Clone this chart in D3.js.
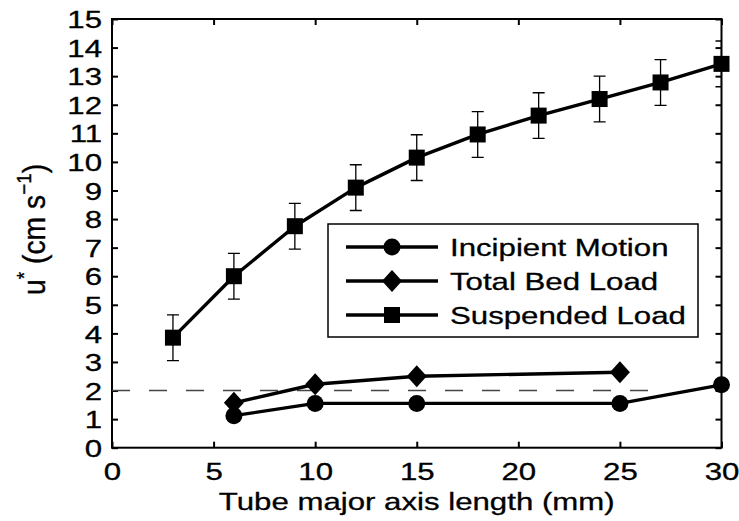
<!DOCTYPE html>
<html>
<head>
<meta charset="utf-8">
<title>u* vs tube major axis length</title>
<script src="https://cdn.jsdelivr.net/npm/d3@7/dist/d3.min.js" charset="utf-8"></script>
<style type="text/css">
	body { margin: 0; background: #fff; }
	text { font-family: "Liberation Sans", Arial, Helvetica, sans-serif; fill: #000; stroke: #000; stroke-width: 0.3px; }
	.series { fill: none; stroke: #000; stroke-width: 3.4px; stroke-linejoin: round; }
	.err { stroke: #000; stroke-width: 1.3px; fill: none; }
	.axis path, .axis line { stroke: #000; stroke-width: 2px; }
</style>
</head>
<body>
<script type="text/javascript">

var width = 739,
    height = 521;

// data
var xTicks = [0, 5, 10, 15, 20, 25, 30];
var yTicks = d3.range(0, 16);

var imX = [6, 10, 15, 25, 30];
var imY = [1.12, 1.55, 1.55, 1.55, 2.2];

var tbX = [6, 10, 15, 25];
var tbY = [1.57, 2.22, 2.5, 2.64];

var slX = [3, 6, 9, 12, 15, 18, 21, 24, 27, 30];
var slY = [3.85, 6.0, 7.75, 9.1, 10.15, 10.96, 11.62, 12.2, 12.78, 13.43];
var slErr = [0.8, 0.8, 0.8, 0.8, 0.8, 0.8, 0.8, 0.8, 0.8, 0.8];

var threshY = 2;
var threshX = [0, 27];

var legendLabels = ["Incipient Motion", "Total Bed Load", "Suspended Load"];
var legendShapes = ["circle", "diamond", "square"];

var xTitle = "Tube major axis length (mm)";

var SX = 1.3; // the original figure is stretched horizontally

var margin = {left: 112, right: 17.5, top: 19, bottom: 73.3};
var pw = width - margin.left - margin.right,
    ph = height - margin.top - margin.bottom;

var x = d3.scaleLinear().domain([0, 30]).range([0, pw]);
var y = d3.scaleLinear().domain([0, 15]).range([ph, 0]);

var svg = d3.select("body").append("svg").attr("width", width).attr("height", height);
svg.append("defs").append("clipPath").attr("id", "clip")
  .append("rect").attr("width", pw).attr("height", ph);

var g = svg.append("g").attr("transform", "translate(" + margin.left + "," + margin.top + ")");

// box
g.append("rect").attr("width", pw).attr("height", ph)
  .attr("fill", "none").attr("stroke", "#000").attr("stroke-width", 2);

function stretchText(sel, anchor) {
  sel.selectAll("text").each(function() {
    var t = d3.select(this);
    var tx = +t.attr("x") || 0, ty = +t.attr("y") || 0;
    t.attr("x", tx / SX).attr("y", ty)
     .attr("transform", "scale(" + SX + ",1)")
     .style("font-size", "24px").style("font-family", null)
     .attr("text-anchor", anchor);
  });
}

var gx = g.append("g").attr("class", "axis").attr("transform", "translate(0," + ph + ")")
  .call(d3.axisBottom(x).tickValues(xTicks).tickSizeInner(-6).tickSizeOuter(0).tickPadding(15));
gx.select(".domain").remove();
stretchText(gx, "middle");
gx.selectAll("text").attr("dy", "0.71em").attr("fill", "#000");

var gxt = g.append("g").attr("class", "axis")
  .call(d3.axisTop(x).tickValues(xTicks).tickSizeInner(-6).tickSizeOuter(0).tickFormat(""));
gxt.select(".domain").remove();

var gy = g.append("g").attr("class", "axis")
  .call(d3.axisLeft(y).tickValues(yTicks).tickSizeInner(-6).tickSizeOuter(0).tickPadding(10));
gy.select(".domain").remove();
stretchText(gy, "end");
gy.selectAll("text").attr("dy", "0.36em").attr("fill", "#000");

var gyr = g.append("g").attr("class", "axis").attr("transform", "translate(" + pw + ",0)")
  .call(d3.axisRight(y).tickValues(yTicks).tickSizeInner(-6).tickSizeOuter(0).tickFormat(""));
gyr.select(".domain").remove();

// dashed threshold
g.append("line")
  .attr("x1", x(threshX[0])).attr("x2", x(threshX[1]))
  .attr("y1", y(threshY)).attr("y2", y(threshY))
  .attr("stroke", "#444").attr("stroke-width", 1.6).attr("stroke-dasharray", "18,19");

var line = d3.line().x(function(d) { return x(d[0]); }).y(function(d) { return y(d[1]); });

function markers(sel, shape) {
  if (shape === "circle") {
    sel.append("circle").attr("r", 8.5).attr("fill", "#000");
  } else if (shape === "diamond") {
    sel.append("path").attr("d", "M0,-11L10,0L0,11L-10,0Z").attr("fill", "#000");
  } else {
    sel.append("rect").attr("x", -8).attr("y", -8).attr("width", 16).attr("height", 16).attr("fill", "#000");
  }
}

function drawSeries(xs, ys, shape) {
  var pts = xs.map(function(v, i) { return [v, ys[i]]; });
  g.append("path").datum(pts).attr("class", "series").attr("d", line);
  var m = g.selectAll(null).data(pts).enter().append("g")
    .attr("transform", function(d) { return "translate(" + x(d[0]) + "," + y(d[1]) + ")"; });
  markers(m, shape);
}

// error bars on suspended load
var eb = g.append("g").attr("clip-path", "url(#clip)");
var errData = slX.map(function(v, i) { return [v, slY[i], slErr[i]]; });
var ebs = eb.selectAll(null).data(errData).enter().append("g").attr("class", "err");
ebs.append("line")
  .attr("x1", function(d) { return x(d[0]); }).attr("x2", function(d) { return x(d[0]); })
  .attr("y1", function(d) { return y(d[1] - d[2]); }).attr("y2", function(d) { return y(d[1] + d[2]); });
[-1, 1].forEach(function(s) {
  ebs.append("line")
    .attr("x1", function(d) { return x(d[0]) - 6; }).attr("x2", function(d) { return x(d[0]) + 6; })
    .attr("y1", function(d) { return y(d[1] + s * d[2]); }).attr("y2", function(d) { return y(d[1] + s * d[2]); });
});

drawSeries(imX, imY, "circle");
drawSeries(tbX, tbY, "diamond");
drawSeries(slX, slY, "square");

// x title
svg.append("text")
  .attr("transform", "translate(" + (margin.left + pw / 2) + ",510) scale(" + SX + ",1)")
  .attr("text-anchor", "middle").style("font-size", "24px").text(xTitle);

// y title: u* (cm s^-1)
var yt = svg.append("text")
  .attr("transform", "translate(45,295) rotate(-90) scale(1.18," + SX + ")")
  .style("font-size", "24px");
yt.append("tspan").text("u");
yt.append("tspan").attr("dy", -11).style("font-size", "16px").text("*");
yt.append("tspan").attr("dy", 11).text(" (cm s");
yt.append("tspan").attr("dy", -11).style("font-size", "16px").text("\u22121");
yt.append("tspan").attr("dy", 11).text(")");

// legend
var lg = svg.append("g").attr("transform", "translate(328,224)");
lg.append("rect").attr("width", 370).attr("height", 113)
  .attr("fill", "#fff").attr("stroke", "#000").attr("stroke-width", 1.5);
var rows = lg.selectAll(null).data(legendLabels).enter().append("g")
  .attr("transform", function(d, i) { return "translate(0," + (23 + i * 34) + ")"; });
rows.append("line").attr("x1", 18).attr("x2", 110).attr("y1", 0).attr("y2", 0)
  .attr("stroke", "#000").attr("stroke-width", 3.4);
rows.each(function(d, i) {
  var mk = d3.select(this).append("g").attr("transform", "translate(64,0)");
  markers(mk, legendShapes[i]);
});
rows.append("text")
  .attr("transform", "translate(122,8.5) scale(" + SX + ",1)")
  .style("font-size", "24px").text(function(d) { return d; });

</script>
</body>
</html>
